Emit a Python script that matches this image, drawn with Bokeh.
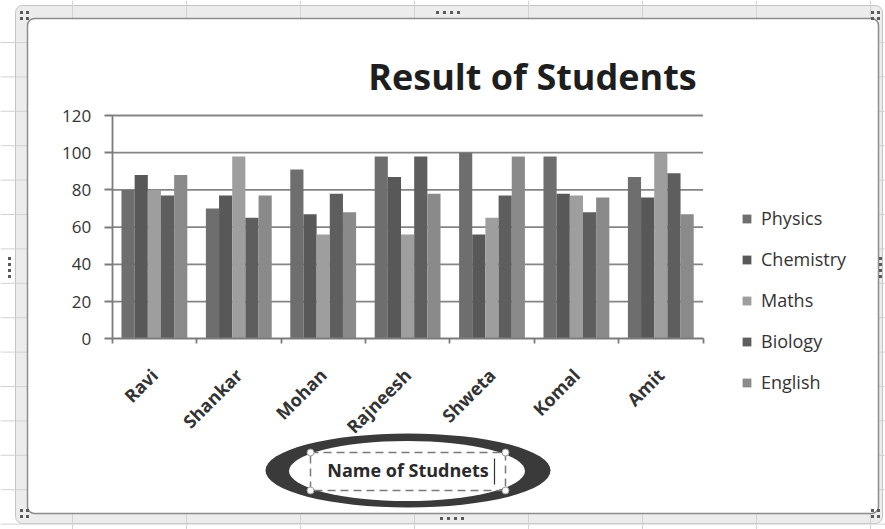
import math

from bokeh.embed import file_html
from bokeh.models import (ColumnDataSource, FixedTicker, Label, Legend,
                          LegendItem, LinearAxis, Quad, Range1d)
from bokeh.plotting import figure
from bokeh.resources import INLINE

# ---- data -----------------------------------------------------------------
students = ["Ravi", "Shankar", "Mohan", "Rajneesh", "Shweta", "Komal", "Amit"]
physics = [80, 70, 91, 98, 100, 98, 87]
chemistry = [88, 77, 67, 87, 56, 78, 76]
maths = [80, 98, 56, 56, 65, 77, 100]
biology = [77, 65, 78, 98, 77, 68, 89]
english = [88, 77, 68, 78, 98, 76, 67]
subjects = ["Physics", "Chemistry", "Maths", "Biology", "English"]
y_ticks = [0, 20, 40, 60, 80, 100, 120]

title_text = "Result of Students"
x_title = "Name of Studnets"

# ---- layout constants (pixels) ----------------------------------------------
W, H = 885, 529
PLOT_L, CAT_W = 111.7, 84.4          # left edge of plot area, width of one category
BASE_Y, PX_PER_UNIT = 338.3, 1.8608  # pixel row of value 0, pixels per score point

FONT = "Open Sans"
colors = ["#6e6e6e", "#585858", "#9e9e9e", "#5e5e5e", "#8a8a8a"]

centers = [i + 0.5 for i in range(len(students))]
source = ColumnDataSource(dict(
    name=students, xc=centers,
    Physics=physics, Chemistry=chemistry, Maths=maths,
    Biology=biology, English=english,
))

# frame covers the whole canvas; data ranges chosen so the plot area lands in place
x_range = Range1d(-PLOT_L / CAT_W, (W - PLOT_L) / CAT_W)
y_range = Range1d(-(H - BASE_Y) / PX_PER_UNIT, BASE_Y / PX_PER_UNIT)

p = figure(width=W, height=H, x_range=x_range, y_range=y_range,
           x_axis_type=None, y_axis_type=None,
           toolbar_location=None, output_backend="svg", min_border=0)
p.outline_line_color = None
p.background_fill_color = "#ffffff"
p.border_fill_color = "#ffffff"
p.grid.visible = False

# pixel-space ranges for the worksheet and chart decorations
p.extra_x_ranges = {"px": Range1d(0, W)}
p.extra_y_ranges = {"py": Range1d(H, 0)}
PX = dict(x_range_name="px", y_range_name="py")

radius = {"border_radius": 7} if "border_radius" in Quad.properties() else {}

# worksheet selection band around the chart
p.quad(left=15, right=882, top=5, bottom=523, fill_color="#ececec",
       line_color="#c4c4c4", line_width=1, **radius, **PX)

# worksheet cell grid
row_lines = [42 + 34.4 * k for k in range(15) if 42 + 34.4 * k < H]
col_lines = [72 + 114 * k for k in range(8)]
p.segment(x0=0, x1=W, y0=row_lines, y1=row_lines, line_color="#d2d2d2",
          line_width=1, **PX)
p.segment(x0=col_lines, x1=col_lines, y0=0, y1=H, line_color="#d2d2d2",
          line_width=1, **PX)

# chart area
p.quad(left=27, right=878, top=18, bottom=513, fill_color="#ffffff",
       line_color="#8c8c8c", line_width=1.5, **radius, **PX)

# selection handles
hx = [21, 27, 21, 27, 872, 878, 872, 878, 21, 27, 21, 27, 872, 878, 872, 878,
      437, 444, 451, 458, 441, 448, 455, 462, 9, 9, 9, 9, 880, 880, 880, 880]
hy = [12, 12, 18, 18, 12, 12, 18, 18, 510, 510, 516, 516, 510, 510, 516, 516,
      12, 12, 12, 12, 518, 518, 518, 518, 258, 264, 270, 276, 258, 264, 270, 276]
p.rect(x=hx, y=hy, width=3, height=3, fill_color="#5a5a5a", line_color=None, **PX)

# horizontal gridlines
p.segment(x0=0, x1=len(students), y0=y_ticks[1:], y1=y_ticks[1:],
          line_color="#858585", line_width=1.8)

# bars
bar_w = 0.156
offsets = [(k - 2) * bar_w for k in range(len(subjects))]
bars = []
for subj, off, col in zip(subjects, offsets, colors):
    xs = [c + off for c in centers]
    r = p.vbar(x=xs, top=source.data[subj], bottom=0, width=bar_w,
               fill_color=col, line_color=None)
    bars.append(r)

# axes, pinned inside the full-canvas frame
yaxis = LinearAxis(fixed_location=0, bounds=(0, 120),
                   ticker=FixedTicker(ticks=y_ticks))
yaxis.axis_line_color = "#7c7c7c"
yaxis.axis_line_width = 1.8
yaxis.major_tick_line_color = "#7c7c7c"
yaxis.major_tick_line_width = 1.8
yaxis.major_tick_out = 8
yaxis.major_tick_in = 0
yaxis.minor_tick_line_color = None
yaxis.major_label_standoff = 13
yaxis.major_label_text_font = FONT
yaxis.major_label_text_font_size = "17px"
yaxis.major_label_text_color = "#333333"
p.add_layout(yaxis, "left")

xaxis = LinearAxis(fixed_location=0, bounds=(0, len(students)),
                   ticker=FixedTicker(ticks=centers,
                                      minor_ticks=list(range(len(students) + 1))))
xaxis.major_label_overrides = {c: n for c, n in zip(centers, students)}
xaxis.axis_line_color = "#7c7c7c"
xaxis.axis_line_width = 1.8
xaxis.major_tick_line_color = None
xaxis.major_tick_out = 0
xaxis.major_tick_in = 0
xaxis.minor_tick_line_color = "#7c7c7c"
xaxis.minor_tick_line_width = 1.8
xaxis.minor_tick_out = 5
xaxis.minor_tick_in = 0
xaxis.major_label_orientation = math.pi / 4
xaxis.major_label_standoff = 28
xaxis.major_label_text_font = FONT
xaxis.major_label_text_font_size = "18px"
xaxis.major_label_text_font_style = "bold"
xaxis.major_label_text_color = "#333333"
xaxis.axis_label = x_title
xaxis.axis_label_standoff = 8
xaxis.axis_label_text_font = FONT
xaxis.axis_label_text_font_size = "18px"
xaxis.axis_label_text_font_style = "bold"
xaxis.axis_label_text_color = "#2a2a2a"
p.add_layout(xaxis, "below")

# highlight drawn around the axis title
p.ellipse(x=407.5, y=470, width=285, height=74, fill_color="#3a3a3a",
          line_color=None, **PX)
p.ellipse(x=406.5, y=470.5, width=236, height=60, fill_color="#ffffff",
          line_color=None, **PX)
p.quad(left=310, right=505, top=452, bottom=490, fill_color=None,
       line_color="#7a7a7a", line_width=1.5, line_dash="8 5", **PX)
p.scatter(x=[310, 505, 310, 505], y=[452, 452, 490, 490], size=7,
          fill_color="#ffffff", line_color="#9a9a9a", line_width=1, **PX)
p.segment(x0=[494], x1=[494], y0=[458], y1=[484], line_color="#333333",
          line_width=1.2, **PX)

# title
p.add_layout(Label(x=532, y=76, text=title_text, text_align="center",
                   text_baseline="alphabetic", text_font=FONT,
                   text_font_size="36px", text_font_style="bold",
                   text_color="#1e1e1e", **PX))

# legend
legend = Legend(items=[LegendItem(label=s, renderers=[r])
                       for s, r in zip(subjects, bars)],
                location=(741, H - 394))
legend.orientation = "vertical"
legend.glyph_width = 11
legend.glyph_height = 11
legend.label_height = 20
legend.spacing = 17
legend.padding = 0
legend.margin = 0
legend.label_standoff = 9
legend.label_text_font = FONT
legend.label_text_font_size = "18px"
legend.label_text_color = "#333333"
legend.border_line_color = None
legend.background_fill_alpha = 0
p.add_layout(legend, "center")

open("out.html", "w").write(file_html(p, INLINE))
